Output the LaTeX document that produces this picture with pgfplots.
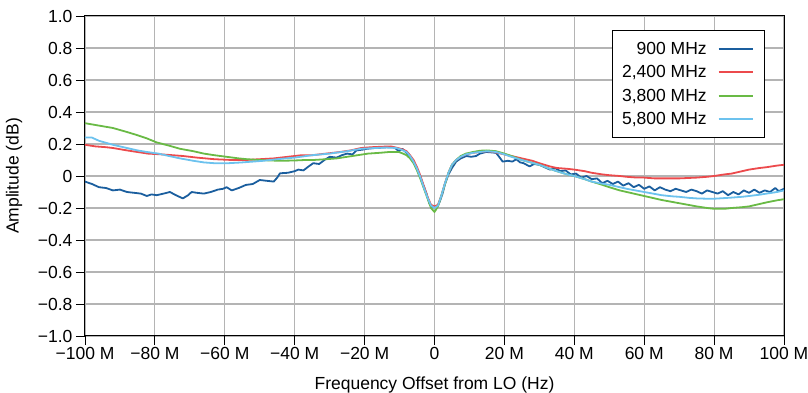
\documentclass[border=0pt]{standalone}
\usepackage{pgfplots}
\pgfplotsset{compat=1.18}
\usepackage{fontspec}
\setmainfont{Liberation Sans}

\definecolor{cBlue}{HTML}{1A5E9E}
\definecolor{cRed}{HTML}{EC4A4C}
\definecolor{cGreen}{HTML}{69BA45}
\definecolor{cCyan}{HTML}{6CC2EE}
\definecolor{gridgray}{HTML}{B4B4B4}

\begin{document}
\begin{tikzpicture}
\begin{axis}[
  scale only axis,
  width=699pt, height=320pt,
  xmin=-100, xmax=100, ymin=-1, ymax=1,
  xtick={-100,-80,...,100},
  xticklabels={−100 M,−80 M,−60 M,−40 M,−20 M,0,20 M,40 M,60 M,80 M,100 M},
  ytick={-1,-0.8,...,1.01},
  yticklabels={−1.0,−0.8,−0.6,−0.4,−0.2,0,0.2,0.4,0.6,0.8,1.0},
  tick label style={font=\fontsize{17.5}{19}\selectfont},
  xticklabel style={yshift=1pt},
  xtick pos=bottom, ytick pos=left,
  tick align=outside,
  major tick length=9pt,
  tick style={black, line width=0.9pt},
  grid=major,
  major grid style={gridgray, line width=1.1pt},
  axis line style={black, line width=1pt},
  xlabel={Frequency Offset from LO (Hz)},
  ylabel={Amplitude (dB)},
  label style={font=\fontsize{17.5}{20}\selectfont},
  xlabel style={at={(axis description cs:0.5,-0.153)}, anchor=center},
  ylabel style={at={(axis description cs:-0.1016,0.5)}, anchor=center},
  legend style={
    at={(axis description cs:1,1)}, anchor=north east,
    xshift=-19pt, yshift=-14pt,
    draw=black, line width=1pt,
    font=\fontsize{17.5}{20}\selectfont,
    row sep=5.8pt, inner xsep=8pt, inner ysep=9.5pt,
  },
  legend cell align=right,
  legend plot pos=right,
  legend image code/.code={%
    \path (0pt,0pt) (46pt,0pt);
    \draw[#1, line width=2pt] (9pt,0pt) -- (43pt,0pt);},
  every axis plot/.append style={line width=1.8pt, line join=round},
]

% 900 MHz
\addplot[cBlue] coordinates {
(-100,-0.035) (-98,-0.05) (-96,-0.07) (-94,-0.075) (-92,-0.09) (-90,-0.085)
(-88,-0.10) (-86,-0.105) (-84,-0.11) (-82.3,-0.125) (-81,-0.115) (-79.5,-0.12)
(-77.5,-0.11) (-75.7,-0.10) (-74,-0.12) (-72,-0.14) (-70.5,-0.12) (-69.5,-0.10)
(-68,-0.105) (-66,-0.11) (-64,-0.10) (-62,-0.085) (-60.5,-0.08) (-59.5,-0.07)
(-58,-0.09) (-56,-0.075) (-54,-0.056) (-52,-0.05) (-50,-0.025) (-48,-0.03)
(-46,-0.035) (-45,-0.01) (-44.2,0.017) (-42,0.02) (-40,0.03) (-39,0.04)
(-37.5,0.035) (-36,0.06) (-34.7,0.08) (-33,0.075) (-31.5,0.10) (-30,0.12)
(-28,0.115) (-26.5,0.13) (-25,0.14) (-23.5,0.135) (-22.3,0.16) (-20.5,0.165)
(-19.4,0.17) (-17,0.175) (-15,0.178) (-13,0.18) (-11.8,0.18) (-11,0.17)
(-10.2,0.155) (-9.2,0.17) (-8,0.145) (-7,0.12) (-6,0.09) (-5,0.04)
(-4,-0.01) (-3,-0.07) (-2.3,-0.11) (-1.5,-0.17) (-0.8,-0.195) (0,-0.195)
(0.8,-0.19) (1.5,-0.16) (2.3,-0.11) (3,-0.05) (4,0.01) (5,0.05)
(6.2,0.09) (7.5,0.11) (9.1,0.125) (10.5,0.12) (11.9,0.125) (13,0.14)
(14.8,0.15) (16,0.148) (17.6,0.145) (18.5,0.12) (19.5,0.09) (21,0.095)
(22.3,0.09) (23.4,0.105) (24.5,0.085) (25.5,0.08) (27.2,0.06) (28.5,0.075)
(30,0.07) (31.5,0.055) (33,0.04) (34.5,0.05) (36,0.03) (37.5,0.035)
(39,0.01) (40.5,0.015) (42,-0.01) (43.5,0.0) (45,-0.02) (46.5,-0.015)
(48,-0.045) (49.5,-0.03) (51,-0.05) (52.5,-0.035) (54,-0.06) (55.5,-0.045)
(57,-0.07) (58.5,-0.055) (60,-0.08) (61.5,-0.065) (63,-0.09) (64.5,-0.07)
(66,-0.085) (67.5,-0.095) (69,-0.08) (70.5,-0.09) (72,-0.1) (73.5,-0.085)
(75,-0.095) (76.5,-0.11) (78,-0.09) (79.5,-0.1) (81,-0.11) (82.5,-0.095)
(84,-0.12) (85.5,-0.1) (87,-0.115) (88.5,-0.09) (90,-0.105) (91.5,-0.085)
(93,-0.105) (94.5,-0.09) (96,-0.1) (97.5,-0.075) (98.5,-0.095) (100,-0.08)
};
\addlegendentry{900 MHz}

% 2,400 MHz
\addplot[cRed] coordinates {
(-100,0.195) (-97,0.185) (-94,0.18) (-92,0.175) (-88,0.16) (-85,0.15)
(-82,0.14) (-78,0.135) (-75,0.13) (-72,0.125) (-68,0.115) (-63,0.105)
(-58,0.10) (-54,0.10) (-50,0.105) (-46,0.11) (-42,0.12) (-38,0.13)
(-35,0.13) (-31,0.14) (-27,0.15) (-24,0.16) (-21,0.175) (-18,0.18)
(-15,0.183) (-12.5,0.185) (-10.5,0.175) (-9,0.165) (-8,0.155) (-7,0.13)
(-6,0.10) (-5,0.055) (-4,0.0) (-3,-0.065) (-2,-0.13) (-1,-0.18)
(0,-0.19) (1,-0.18) (2,-0.12) (3,-0.045) (4,0.02) (5,0.07)
(6.2,0.10) (7.5,0.12) (9,0.135) (11,0.145) (13,0.15) (15,0.155)
(17,0.15) (19,0.14) (21,0.13) (23,0.12) (25,0.11) (28,0.095)
(30,0.08) (33,0.06) (35,0.05) (38,0.045) (40,0.04) (43,0.03)
(45,0.02) (48,0.01) (50,0.005) (53,0.0) (55,-0.005) (58,-0.01)
(60,-0.01) (63,-0.015) (65,-0.015) (68,-0.015) (70,-0.015) (73,-0.012)
(75,-0.01) (78,-0.005) (80,0.0) (83,0.01) (85,0.015) (88,0.03)
(90,0.04) (93,0.05) (95,0.055) (98,0.065) (100,0.07)
};
\addlegendentry{2,400 MHz}

% 3,800 MHz
\addplot[cGreen] coordinates {
(-100,0.33) (-96,0.315) (-92,0.30) (-88,0.275) (-85,0.255) (-82.3,0.235)
(-79.5,0.21) (-76,0.19) (-72.8,0.17) (-69,0.155) (-66,0.14) (-63,0.13)
(-59.5,0.12) (-56,0.11) (-53.7,0.105) (-50,0.10) (-47,0.097) (-44,0.095)
(-40,0.097) (-37,0.10) (-34.7,0.10) (-31,0.105) (-28,0.11) (-25,0.12)
(-22,0.13) (-19,0.14) (-15.6,0.145) (-13,0.15) (-10.2,0.15) (-9,0.14)
(-8,0.13) (-7,0.11) (-6,0.08) (-5,0.035) (-4,-0.02) (-3,-0.08)
(-2,-0.14) (-1,-0.2) (0,-0.225) (1,-0.19) (2,-0.12) (3,-0.05)
(4,0.02) (5,0.07) (6.2,0.10) (7.5,0.125) (9,0.14) (11,0.15)
(13,0.158) (15,0.16) (17.6,0.155) (20,0.14) (22,0.125) (25,0.10)
(27.5,0.085) (30,0.07) (33,0.045) (35,0.03) (38,0.01) (40,0.0)
(43,-0.02) (45,-0.035) (48,-0.055) (50,-0.07) (53,-0.09) (55,-0.10)
(58,-0.115) (60,-0.125) (63,-0.14) (65,-0.15) (68,-0.162) (70,-0.17)
(73,-0.182) (75,-0.19) (78,-0.2) (80,-0.205) (83,-0.205) (85,-0.2)
(88,-0.195) (90,-0.19) (93,-0.175) (95,-0.165) (98,-0.152) (100,-0.145)
};
\addlegendentry{3,800 MHz}

% 5,800 MHz
\addplot[cCyan] coordinates {
(-100,0.24) (-98,0.24) (-96,0.22) (-92,0.195) (-88,0.175) (-85,0.16)
(-82.3,0.15) (-79,0.14) (-76,0.125) (-72.8,0.11) (-69,0.095) (-66,0.085)
(-63,0.08) (-59,0.08) (-55,0.085) (-52,0.09) (-49,0.095) (-45,0.105)
(-40,0.115) (-35,0.13) (-30,0.14) (-25,0.155) (-21,0.17) (-17,0.175)
(-14,0.178) (-11,0.175) (-9.5,0.165) (-8,0.15) (-7,0.125) (-6,0.09)
(-5,0.045) (-4,-0.01) (-3,-0.075) (-2,-0.135) (-1,-0.185) (0,-0.2)
(1,-0.185) (2,-0.12) (3,-0.045) (4,0.02) (5,0.07) (6.2,0.10)
(7.5,0.12) (9,0.135) (11,0.145) (13,0.15) (15,0.155) (17.6,0.15)
(20,0.135) (22,0.12) (25,0.10) (27.5,0.085) (30,0.07) (33,0.045)
(35,0.03) (38,0.01) (40,0.0) (43,-0.02) (45,-0.035) (48,-0.048)
(50,-0.055) (53,-0.07) (55,-0.08) (58,-0.092) (60,-0.10) (63,-0.112)
(65,-0.12) (68,-0.127) (70,-0.13) (73,-0.137) (75,-0.14) (78,-0.142)
(80,-0.142) (83,-0.138) (85,-0.135) (88,-0.13) (90,-0.125) (93,-0.117)
(95,-0.11) (98,-0.1) (100,-0.09)
};
\addlegendentry{5,800 MHz}

\end{axis}
\pgfresetboundingbox
\path (-85pt,-57pt) rectangle (723pt,336pt);
\end{tikzpicture}
\end{document}
